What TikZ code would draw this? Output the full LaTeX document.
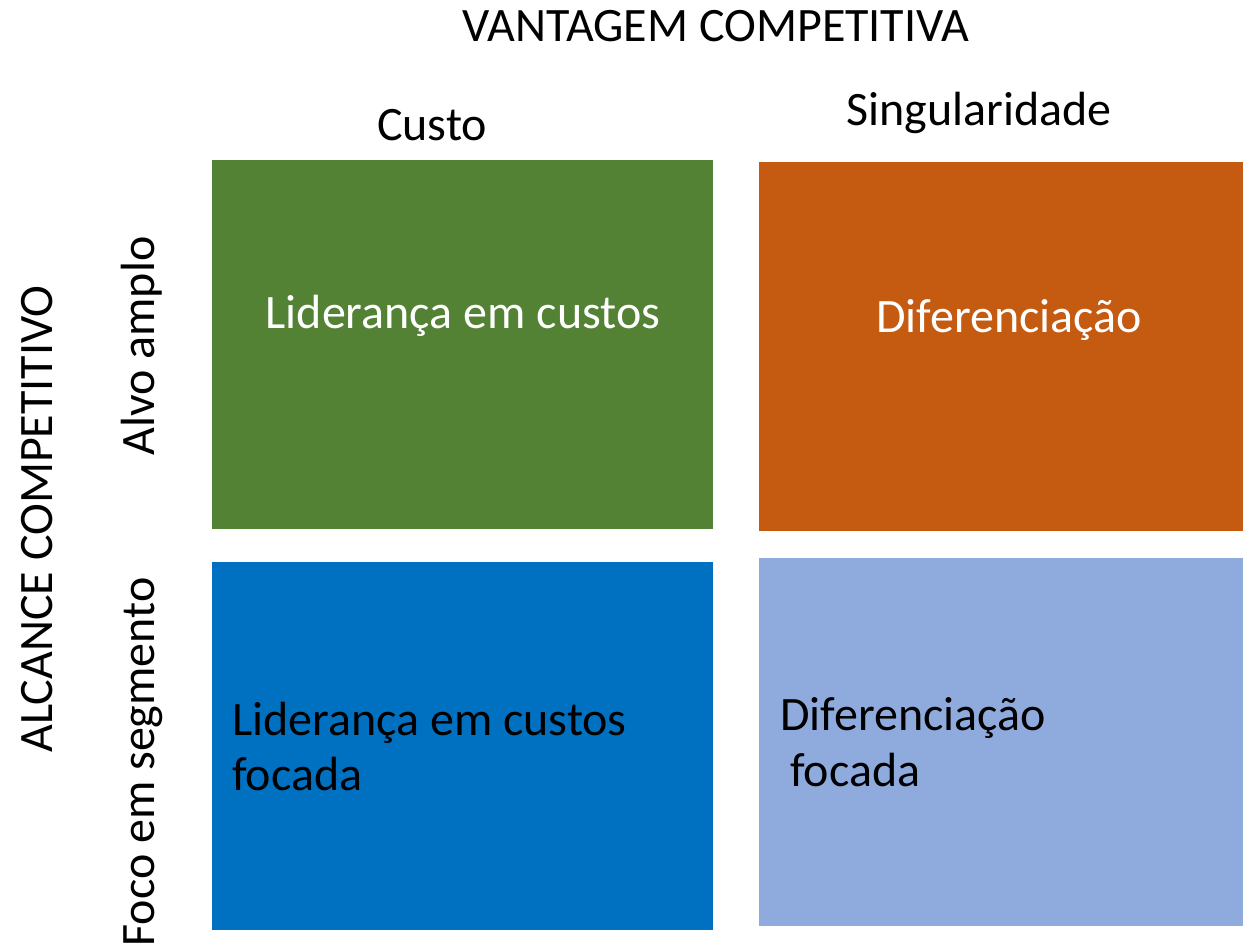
\documentclass[tikz,border=0pt]{standalone}
\usepackage{fontspec}
\setmainfont{Carlito}
\definecolor{cgreen}{HTML}{548235}
\definecolor{corange}{HTML}{C55A11}
\definecolor{cblue}{HTML}{0070C0}
\definecolor{clight}{HTML}{8FAADC}
\tikzset{
  box/.style={anchor=north west, inner sep=0pt, outer sep=0pt, draw=none},
  lbl/.style={inner sep=0pt, font=\fontsize{48}{57}\selectfont},
}
\begin{document}
\begin{tikzpicture}[x=1pt,y=-1pt]
\useasboundingbox (0,0) rectangle (1243,950);
\node[box, fill=cgreen, minimum width=501pt, minimum height=369pt] (g) at (212,160) {};
\node[box, fill=corange, minimum width=484pt, minimum height=369pt] (o) at (759,162) {};
\node[box, fill=cblue, minimum width=501pt, minimum height=368pt] (b) at (212,562) {};
\node[box, fill=clight, minimum width=484pt, minimum height=368pt] (l) at (759,558) {};

\node[lbl, anchor=base] (title) at (716,42) {VANTAGEM COMPETITIVA};
\node[lbl, anchor=base] (custo) at (432,140) {Custo};
\node[lbl, anchor=base] (sing) at (979,125) {Singularidade};

\node[lbl, anchor=base, rotate=90] (alc) at (52,519) {ALCANCE COMPETITIVO};
\node[lbl, anchor=base, rotate=90] (alvo) at (154,346) {Alvo amplo};
\node[lbl, anchor=base, rotate=90] (foco) at (154,762) {Foco em segmento};

\node[lbl, anchor=base, text=white] (t1) at (463,328) {Liderança em custos};
\node[lbl, anchor=base, text=white] (t2) at (1009,332) {Diferenciação};
\node[lbl, anchor=base west] (t3a) at (232,735) {Liderança em custos};
\node[lbl, anchor=base west] (t3b) at (232,790) {focada};
\node[lbl, anchor=base west] (t4a) at (780,730) {Diferenciação};
\node[lbl, anchor=base west] (t4b) at (790,786) {focada};
\end{tikzpicture}
\end{document}
